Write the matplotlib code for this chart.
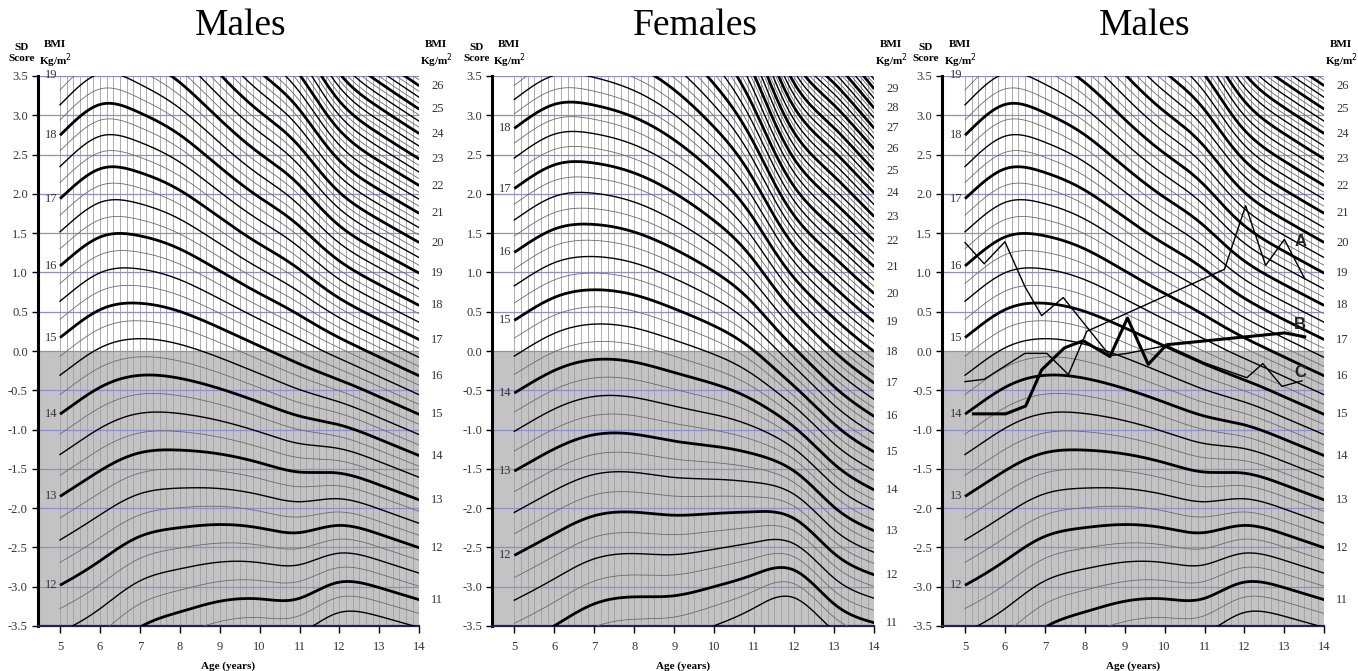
import numpy as np
import matplotlib
matplotlib.use('Agg')
import matplotlib.pyplot as plt

# ---- reference values (L = 0): median BMI and CV by age ----
ages = [5, 6, 7, 8, 9, 10, 11, 12, 13, 14]
male_M = [14.82, 14.46, 14.33, 14.40, 14.61, 14.91, 15.26, 15.68, 16.16, 16.68]
male_S = [0.0708, 0.0698, 0.0752, 0.0811, 0.0891, 0.0964, 0.1040, 0.1205, 0.1277, 0.1315]
female_M = [14.57, 14.26, 14.12, 14.16, 14.33, 14.56, 15.00, 15.92, 17.02, 18.02]
female_S = [0.0746, 0.0742, 0.0776, 0.0807, 0.0849, 0.0935, 0.1091, 0.1325, 0.1355, 0.1427]

# ---- individual patient tracks (third panel) ----
A_age = [5.0, 5.48, 6.5, 7.05, 7.59, 8.05, 11.5, 12.03, 12.53, 13.0, 13.51]
A_sds = [-0.39, -0.36, -0.03, -0.03, -0.30, 0.25, 1.04, 1.85, 1.09, 1.42, 0.92]
B_age = [5.21, 6.02, 6.52, 6.92, 7.49, 7.96, 8.63, 9.07, 9.59, 10.05, 13.01, 13.51]
B_sds = [-0.80, -0.80, -0.70, -0.24, 0.04, 0.13, -0.07, 0.42, -0.17, 0.08, 0.23, 0.18]
C_age = [5.0, 5.48, 6.0, 6.5, 6.92, 7.46, 8.63, 9.07, 10.05, 11.0, 12.06, 12.46, 12.94, 13.44]
C_sds = [1.38, 1.11, 1.39, 0.82, 0.45, 0.68, -0.06, -0.03, 0.07, -0.15, -0.34, -0.16, -0.45, -0.38]

sd_ticks = [-3.5, -3.0, -2.5, -2.0, -1.5, -1.0, -0.5, 0.0, 0.5, 1.0, 1.5, 2.0, 2.5, 3.0, 3.5]
age_ticks = [5, 6, 7, 8, 9, 10, 11, 12, 13, 14]


def natural_spline(x, y, xs):
    x = np.asarray(x, float); y = np.asarray(y, float)
    n = len(x)
    h = np.diff(x)
    A = np.zeros((n, n)); r = np.zeros(n)
    A[0, 0] = 1; A[-1, -1] = 1
    for i in range(1, n - 1):
        A[i, i - 1] = h[i - 1]; A[i, i] = 2 * (h[i - 1] + h[i]); A[i, i + 1] = h[i]
        r[i] = 6 * ((y[i + 1] - y[i]) / h[i] - (y[i] - y[i - 1]) / h[i - 1])
    m = np.linalg.solve(A, r)
    idx = np.clip(np.searchsorted(x, xs) - 1, 0, n - 2)
    x0 = x[idx]; x1 = x[idx + 1]; hh = x1 - x0
    t0 = x1 - xs; t1 = xs - x0
    return (m[idx] * t0 ** 3 / (6 * hh) + m[idx + 1] * t1 ** 3 / (6 * hh)
            + (y[idx] / hh - m[idx] * hh / 6) * t0 + (y[idx + 1] / hh - m[idx + 1] * hh / 6) * t1)


W, H = 1358, 671
fig = plt.figure(figsize=(W / 100, H / 100), dpi=100)
serif = ['Liberation Serif', 'DejaVu Serif']
grid_blue = '#8c8cd8'
txt = '#333333'


def panel(spine_px, a5_px, a14_px, Ms, Ss, title, bmi_hi, right_lab_max, tracks=False):
    ppy = (a14_px - a5_px) / 9.0
    x0 = 5 - (a5_px - spine_px) / ppy
    ax = fig.add_axes([spine_px / W, (H - 626) / H, (a14_px - spine_px) / W, 550 / H])
    ax.set_xlim(x0, 14)
    ax.set_ylim(-3.5, 3.5)
    tt = np.linspace(5, 14, 361)
    lnM = natural_spline(ages, np.log(Ms), tt)
    S = natural_spline(ages, Ss, tt)
    ax.axhspan(-3.5, 0, color='#c3c3c3', zorder=0, lw=0)
    for k in range(0, 55):
        a = 5 + k / 6.0
        ax.axvline(a, color='#a0a0a0', lw=0.6, zorder=1)
    for yv in sd_ticks:
        ax.axhline(yv, color=grid_blue, lw=0.9, zorder=2)
    bmis = np.arange(10.5, bmi_hi + 0.001, 0.25)
    for b in bmis:
        z = (np.log(b) - lnM) / S
        if abs(b - round(b)) < 1e-6:
            ax.plot(tt, z, color='black', lw=2.0, zorder=4, solid_capstyle='butt')
        elif abs(b * 2 - round(b * 2)) < 1e-6:
            ax.plot(tt, z, color='black', lw=1.0, zorder=3)
        else:
            ax.plot(tt, z, color='#6a6a6a', lw=0.6, zorder=3)
    for b in range(10, 31):
        z5 = (np.log(b) - lnM[0]) / S[0]
        if -3.55 <= z5 <= 3.55:
            ax.text(4.93, z5, str(b), ha='right', va='center', fontsize=9,
                    family=serif, color=txt, zorder=6, clip_on=False)
        z14 = (np.log(b) - lnM[-1]) / S[-1]
        if -3.55 <= z14 <= 3.55 and b <= right_lab_max:
            ax.text(14.3, z14, str(b), ha='left', va='center', fontsize=9,
                    family=serif, color=txt, clip_on=False)
    ax.set_yticks(sd_ticks)
    ax.set_yticklabels(['%.1f' % v for v in sd_ticks], family=serif, fontsize=9, color=txt)
    ax.set_xticks(age_ticks)
    ax.set_xticklabels([str(v) for v in age_ticks], family=serif, fontsize=9, color=txt)
    ax.tick_params(axis='y', length=4, width=1, pad=3, direction='out')
    ax.tick_params(axis='x', length=5, width=1, pad=6, direction='out')
    for s in ['top', 'right']:
        ax.spines[s].set_visible(False)
    ax.spines['left'].set_linewidth(2.2)
    ax.spines['bottom'].set_linewidth(1.6)
    ax.spines['bottom'].set_color('#20205a')
    ax.set_xlabel('Age (years)', family=serif, fontsize=8, fontweight='bold', labelpad=6)
    cx = (spine_px + a14_px) / 2 + 12
    fig.text(cx / W, 1 - 26 / H, title, ha='center', va='center', fontsize=27,
             family=serif)
    fig.text((spine_px - 16) / W, 1 - 53 / H, 'SD\nScore', ha='center', va='center',
             fontsize=8, fontweight='bold', family=serif, linespacing=1.15)
    fig.text((a5_px - 5) / W, 1 - 55 / H, 'BMI\nKg/m$^2$', ha='center', va='center',
             fontsize=8, fontweight='bold', family=serif, linespacing=1.15)
    fig.text((a14_px + 17) / W, 1 - 55 / H, 'BMI\nKg/m$^2$', ha='center', va='center',
             fontsize=8, fontweight='bold', family=serif, linespacing=1.15)
    if tracks:
        ax.plot(A_age, A_sds, color='black', lw=1.0, zorder=7)
        ax.plot(B_age, B_sds, color='black', lw=2.2, zorder=7)
        ax.plot(C_age, C_sds, color='black', lw=1.0, zorder=7)
        for lab, yy in [('A', 1.40), ('B', 0.34), ('C', -0.27)]:
            ax.text(13.4, yy, lab, fontsize=12, fontweight='bold', ha='center',
                    va='center', family=['Liberation Sans', 'DejaVu Sans'], color='#222222', zorder=8)
    return ax


panel(37.5, 60.0, 419.3, male_M, male_S, 'Males', 27.0, 26)
panel(492.3, 514.3, 874.3, female_M, female_S, 'Females', 30.0, 29)
panel(941.7, 965.0, 1324.3, male_M, male_S, 'Males', 27.0, 26, tracks=True)

fig.savefig('out.png', dpi=100)
